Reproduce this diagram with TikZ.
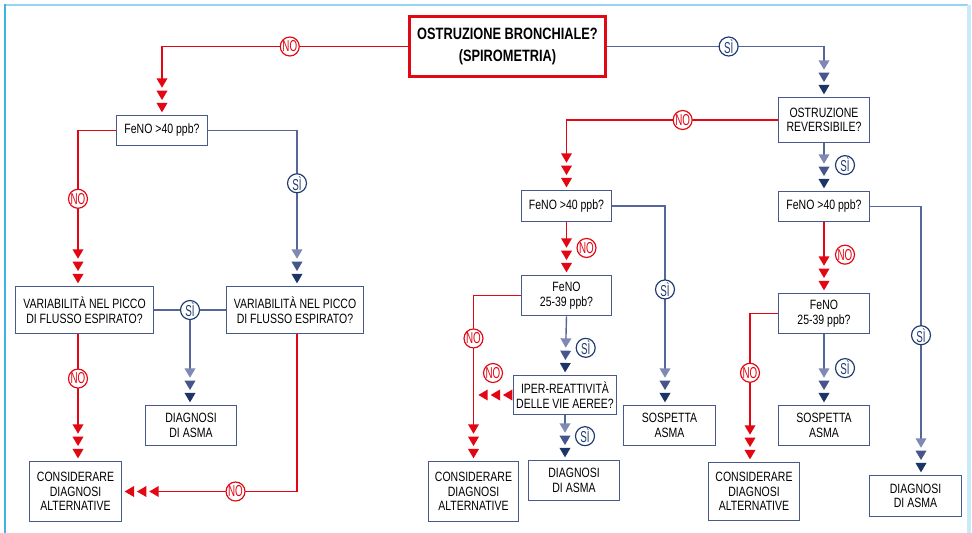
\documentclass[tikz,border=0pt]{standalone}
\usepackage{fontspec}
\setmainfont[FakeStretch=0.78]{Liberation Sans}
\newfontfamily\tagfont[FakeStretch=0.62]{Liberation Sans}
\usetikzlibrary{decorations.markings}
\definecolor{nored}{RGB}{227,6,19}
\definecolor{siblue}{RGB}{31,58,112}
\definecolor{lineblue}{RGB}{86,102,152}
\definecolor{boxblue}{RGB}{72,90,140}
\definecolor{triA}{RGB}{128,136,180}
\definecolor{triB}{RGB}{70,86,138}
\definecolor{triC}{RGB}{28,52,102}
\definecolor{frameL}{RGB}{60,180,232}
\definecolor{frameT}{RGB}{150,212,242}
\definecolor{frameR}{RGB}{200,234,249}
\def\pix{0.03cm}
% three stacked triangles, the last one (#3) at the end of the path
\newcommand{\tritips}[3]{%
    \fill[#3] (-2pt,0pt) -- (-10pt,4.7pt) -- (-10pt,-4.7pt) -- cycle;
    \fill[#2] (-12.5pt,0pt) -- (-20.5pt,4.7pt) -- (-20.5pt,-4.7pt) -- cycle;
    \fill[#1] (-23pt,0pt) -- (-31pt,4.7pt) -- (-31pt,-4.7pt) -- cycle;}
\tikzset{
    box/.style={draw=boxblue, line width=1.4pt, fill=white, align=center, inner sep=0pt,
        font=\fontsize{11.5}{12.5}\selectfont},
    answer/.style={circle, draw=#1, text=#1, fill=white, line width=1pt, minimum size=19*\pix,
        inner sep=0pt, font=\tagfont\fontsize{13.5}{13.5}\selectfont},
    notag/.style={answer=nored},
    sitag/.style={answer=siblue},
    redline/.style={draw=nored, line width=1.2pt},
    blueline/.style={draw=lineblue, line width=1.2pt},
    redmarks/.style={decoration={markings,
            mark=at position -0.01pt with {\tritips{nored}{nored}{nored}}},
        postaction={decorate}},
    bluemarks/.style={decoration={markings,
            mark=at position -0.01pt with {\tritips{triA}{triB}{triC}}},
        postaction={decorate}},
    redtips/.style={redline, shorten >=30pt, redmarks},
    bluetips/.style={blueline, shorten >=30pt, bluemarks}
}
\begin{document}
\begin{tikzpicture}[x=0.03cm, y=-0.03cm]
    \useasboundingbox (0,0) rectangle (972,533);
    % frame
    \draw[frameT, line width=2.5pt] (5,5) -- (968,5);
    \draw[frameR, line width=3.5pt] (969,5) -- (969,533);
    \draw[frameL, line width=2.5pt] (5,4) -- (5,533);

    % boxes
    \node[box, draw=nored, line width=3pt, font=\bfseries\fontsize{14}{19}\selectfont,
        minimum width=196*\pix, minimum height=60*\pix] (title) at (507.5,46.5) {OSTRUZIONE BRONCHIALE?\\(SPIROMETRIA)};
    \node[box, minimum width=91*\pix, minimum height=30*\pix] (fenoA) at (162,130.5) {FeNO >40 ppb?};
    \node[box, minimum width=138*\pix, minimum height=47*\pix] (varA) at (84.5,310) {VARIABILITÀ NEL PICCO\\DI FLUSSO ESPIRATO?};
    \node[box, minimum width=137*\pix, minimum height=47*\pix] (varB) at (295,310) {VARIABILITÀ NEL PICCO\\DI FLUSSO ESPIRATO?};
    \node[box, minimum width=91*\pix, minimum height=40*\pix] (asmaA) at (191,425.5) {DIAGNOSI\\DI ASMA};
    \node[box, minimum width=92*\pix, minimum height=60*\pix] (altA) at (75.5,491.5) {CONSIDERARE\\DIAGNOSI\\ALTERNATIVE};

    \node[box, minimum width=91*\pix, minimum height=45*\pix] (revers) at (824,120) {OSTRUZIONE\\REVERSIBILE?};
    \node[box, minimum width=90*\pix, minimum height=31*\pix] (fenoB) at (566.5,206) {FeNO >40 ppb?};
    \node[box, minimum width=90*\pix, minimum height=40*\pix] (midB) at (566.5,295.5) {FeNO\\25-39 ppb?};
    \node[box, minimum width=103*\pix, minimum height=39*\pix] (iper) at (565,395) {IPER-REATTIVITÀ\\DELLE VIE AEREE?};
    \node[box, minimum width=91*\pix, minimum height=40*\pix] (asmaB) at (574,480.5) {DIAGNOSI\\DI ASMA};
    \node[box, minimum width=90*\pix, minimum height=60*\pix] (altB) at (473.5,491.5) {CONSIDERARE\\DIAGNOSI\\ALTERNATIVE};
    \node[box, minimum width=92*\pix, minimum height=40*\pix] (sospB) at (669.5,425.5) {SOSPETTA\\ASMA};

    \node[box, minimum width=91*\pix, minimum height=30*\pix] (fenoC) at (824,206.5) {FeNO >40 ppb?};
    \node[box, minimum width=91*\pix, minimum height=40*\pix] (midC) at (824,313.5) {FeNO\\25-39 ppb?};
    \node[box, minimum width=91*\pix, minimum height=40*\pix] (sospC) at (824,425.5) {SOSPETTA\\ASMA};
    \node[box, minimum width=91*\pix, minimum height=58*\pix] (altC) at (754,491.5) {CONSIDERARE\\DIAGNOSI\\ALTERNATIVE};
    \node[box, minimum width=92*\pix, minimum height=41*\pix] (asmaC) at (915.5,496) {DIAGNOSI\\DI ASMA};

    % top
    \draw[redtips] (title.west) -| (fenoA.north) node[notag, pos=0.24] (no1) {NO};
    \draw[bluetips] (title.east) -| (revers.north) node[sitag, pos=0.28] (si1) {SÌ};

    % left side
    \draw[redtips] (fenoA.west) -| ([xshift=-6.5*\pix]varA.north) node[notag, pos=0.72] (no2) {NO};
    \draw[bluetips] (fenoA.east) -| ([xshift=2*\pix]varB.north) node[sitag, pos=0.67] (si2) {SÌ};
    \node[sitag] (si3) at (190,310) {SÌ};
    \draw[blueline] (varA.east) -- (si3) -- (varB.west);
    \draw[bluetips] (si3.south) -- (si3.south |- asmaA.north);
    \draw[redtips] ([xshift=-6.5*\pix]varA.south) -- ([xshift=-6.5*\pix]varA.south |- altA.north) node[notag, pos=0.35] (no3) {NO};
    \draw[redtips] ([xshift=2*\pix]varB.south) |- (altA.east) node[notag, pos=0.676] (no4) {NO};

    % middle
    \draw[redtips] (revers.west) -| (fenoB.north) node[notag, pos=0.225] (no5) {NO};
    \draw[bluetips] (fenoB.east) -| ([xshift=-4.5*\pix]sospB.north) node[sitag, pos=0.71] (si4) {SÌ};
    \draw[redtips] (fenoB.south) -- (midB.north) node[notag, pos=0.49, xshift=20*\pix] (no6) {NO};
    \draw[redtips] (midB.west) -| (altB.north) node[notag, pos=0.63] (no7) {NO};
    \draw[bluetips] (midB.south) -- (iper.north) node[sitag, pos=0.54, xshift=20*\pix] (si5) {SÌ};
    \coordinate (iperno) at (476,395);
    \node[notag] (no8) at (493,373) {NO};
    \path[redmarks] (iper.west) -- (iperno);
    \draw[bluetips] (iper.south) -- (iper.south |- asmaB.north) node[sitag, pos=0.47, xshift=20*\pix] (si6) {SÌ};

    % right side
    \draw[bluetips] (revers.south) -- (fenoC.north) node[sitag, pos=0.46, xshift=21*\pix] (si7) {SÌ};
    \draw[bluetips] (fenoC.east) -| ([xshift=5.5*\pix]asmaC.north) node[sitag, pos=0.74] (si8) {SÌ};
    \draw[redtips] (fenoC.south) -- (midC.north) node[notag, pos=0.46, xshift=21*\pix] (no9) {NO};
    \draw[redtips] (midC.west) -| ([xshift=-4*\pix]altC.north) node[notag, pos=0.7] (no10) {NO};
    \draw[bluetips] (midC.south) -- (sospC.north) node[sitag, pos=0.48, xshift=21*\pix] (si9) {SÌ};
\end{tikzpicture}
\end{document}
